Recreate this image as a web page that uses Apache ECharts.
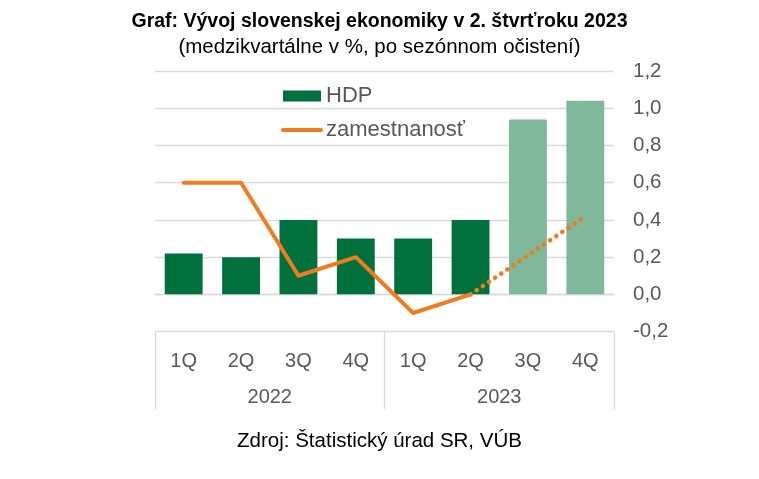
<!DOCTYPE html>
<html>
<head>
<meta charset="utf-8">
<script src="https://cdn.jsdelivr.net/npm/echarts@6/dist/echarts.min.js"></script>
<style>html,body{margin:0;padding:0;background:#fff}#c{width:759px;height:479px}</style>
</head>
<body>
<div id="c"></div>
<script>
const quarters = ['1Q','2Q','3Q','4Q','1Q','2Q','3Q','4Q'];
const years = ['2022','2023'];
const hdp = [0.22, 0.2, 0.4, 0.3, 0.3, 0.4, 0.94, 1.04];
const hdpForecast = [false, false, false, false, false, false, true, true];
const employment = [0.6, 0.6, 0.1, 0.2, -0.1, 0.0, null, null];
const employmentForecast = [null, null, null, null, null, 0.0, 0.21, 0.42];
const yTicks = { min: -0.2, max: 1.2, interval: 0.2 };

const DARK = '#00703C', LIGHT = '#7FB89B', ORANGE = '#F07C22', GRID = '#D9D9D9', TXT = '#595959';
const FONT = 'Liberation Sans, Arial, sans-serif';

const chart = echarts.init(document.getElementById('c'));
chart.setOption({
  animation: false,
  textStyle: { fontFamily: FONT },
  title: [
    { text: 'Graf: Vývoj slovenskej ekonomiky v 2. štvrťroku 2023',
      subtext: '(medzikvartálne v %, po sezónnom očistení)',
      left: 'center', top: 7, itemGap: 5,
      textStyle: { fontFamily: FONT, fontSize: 19.5, fontWeight: 'bold', color: '#000' },
      subtextStyle: { fontFamily: FONT, fontSize: 20.5, color: '#000' } },
    { text: 'Zdroj: Štatistický úrad SR, VÚB', left: 'center', top: 426,
      textStyle: { fontFamily: FONT, fontSize: 20.5, fontWeight: 'normal', color: '#000' } }
  ],
  legend: {
    orient: 'vertical', left: 276, top: 80, itemGap: 12,
    itemWidth: 38, itemHeight: 11,
    textStyle: { fontFamily: FONT, fontSize: 22, color: TXT },
    data: [
      { name: 'HDP', icon: 'rect' },
      { name: 'zamestnanosť', itemStyle: { opacity: 0 }, lineStyle: { width: 4, cap: 'round', color: ORANGE } }
    ]
  },
  grid: { left: 155, right: 145, top: 71, bottom: 147.4 },
  xAxis: [
    { type: 'category', data: quarters, position: 'bottom',
      axisLine: { show: true, lineStyle: { color: GRID, width: 1.3 } },
      axisTick: { show: false },
      axisLabel: { margin: 20, fontSize: 20, color: TXT, fontFamily: FONT } },
    { type: 'category', data: years, position: 'bottom', offset: 78,
      axisLine: { show: false },
      axisTick: { show: true, inside: true, length: 78, lineStyle: { color: GRID, width: 1.3 } },
      axisLabel: { inside: true, margin: 2, fontSize: 20, color: TXT, fontFamily: FONT } }
  ],
  yAxis: {
    type: 'value', position: 'right', min: yTicks.min, max: yTicks.max, interval: yTicks.interval,
    axisLine: { show: false }, axisTick: { show: false },
    splitLine: { lineStyle: { color: GRID, width: 1.3 } },
    axisLabel: { margin: 19, fontSize: 20.5, color: TXT, fontFamily: FONT,
      formatter: v => v.toFixed(1).replace('.', ',') }
  },
  series: [
    { name: 'HDP', type: 'bar', barWidth: '66%', xAxisIndex: 0,
      itemStyle: { color: DARK },
      data: hdp.map((v, i) => hdpForecast[i] ? { value: v, itemStyle: { color: LIGHT } } : v) },
    { name: 'zamestnanosť', type: 'line', xAxisIndex: 0, symbol: 'none',
      lineStyle: { color: ORANGE, width: 4, cap: 'round', join: 'round' },
      itemStyle: { color: ORANGE },
      data: employment },
    { name: 'prognóza', type: 'line', xAxisIndex: 0, symbol: 'none',
      lineStyle: { color: ORANGE, width: 4.6, type: [0.1, 7.3], cap: 'round' },
      itemStyle: { color: ORANGE },
      data: employmentForecast }
  ]
});
</script>
</body>
</html>
